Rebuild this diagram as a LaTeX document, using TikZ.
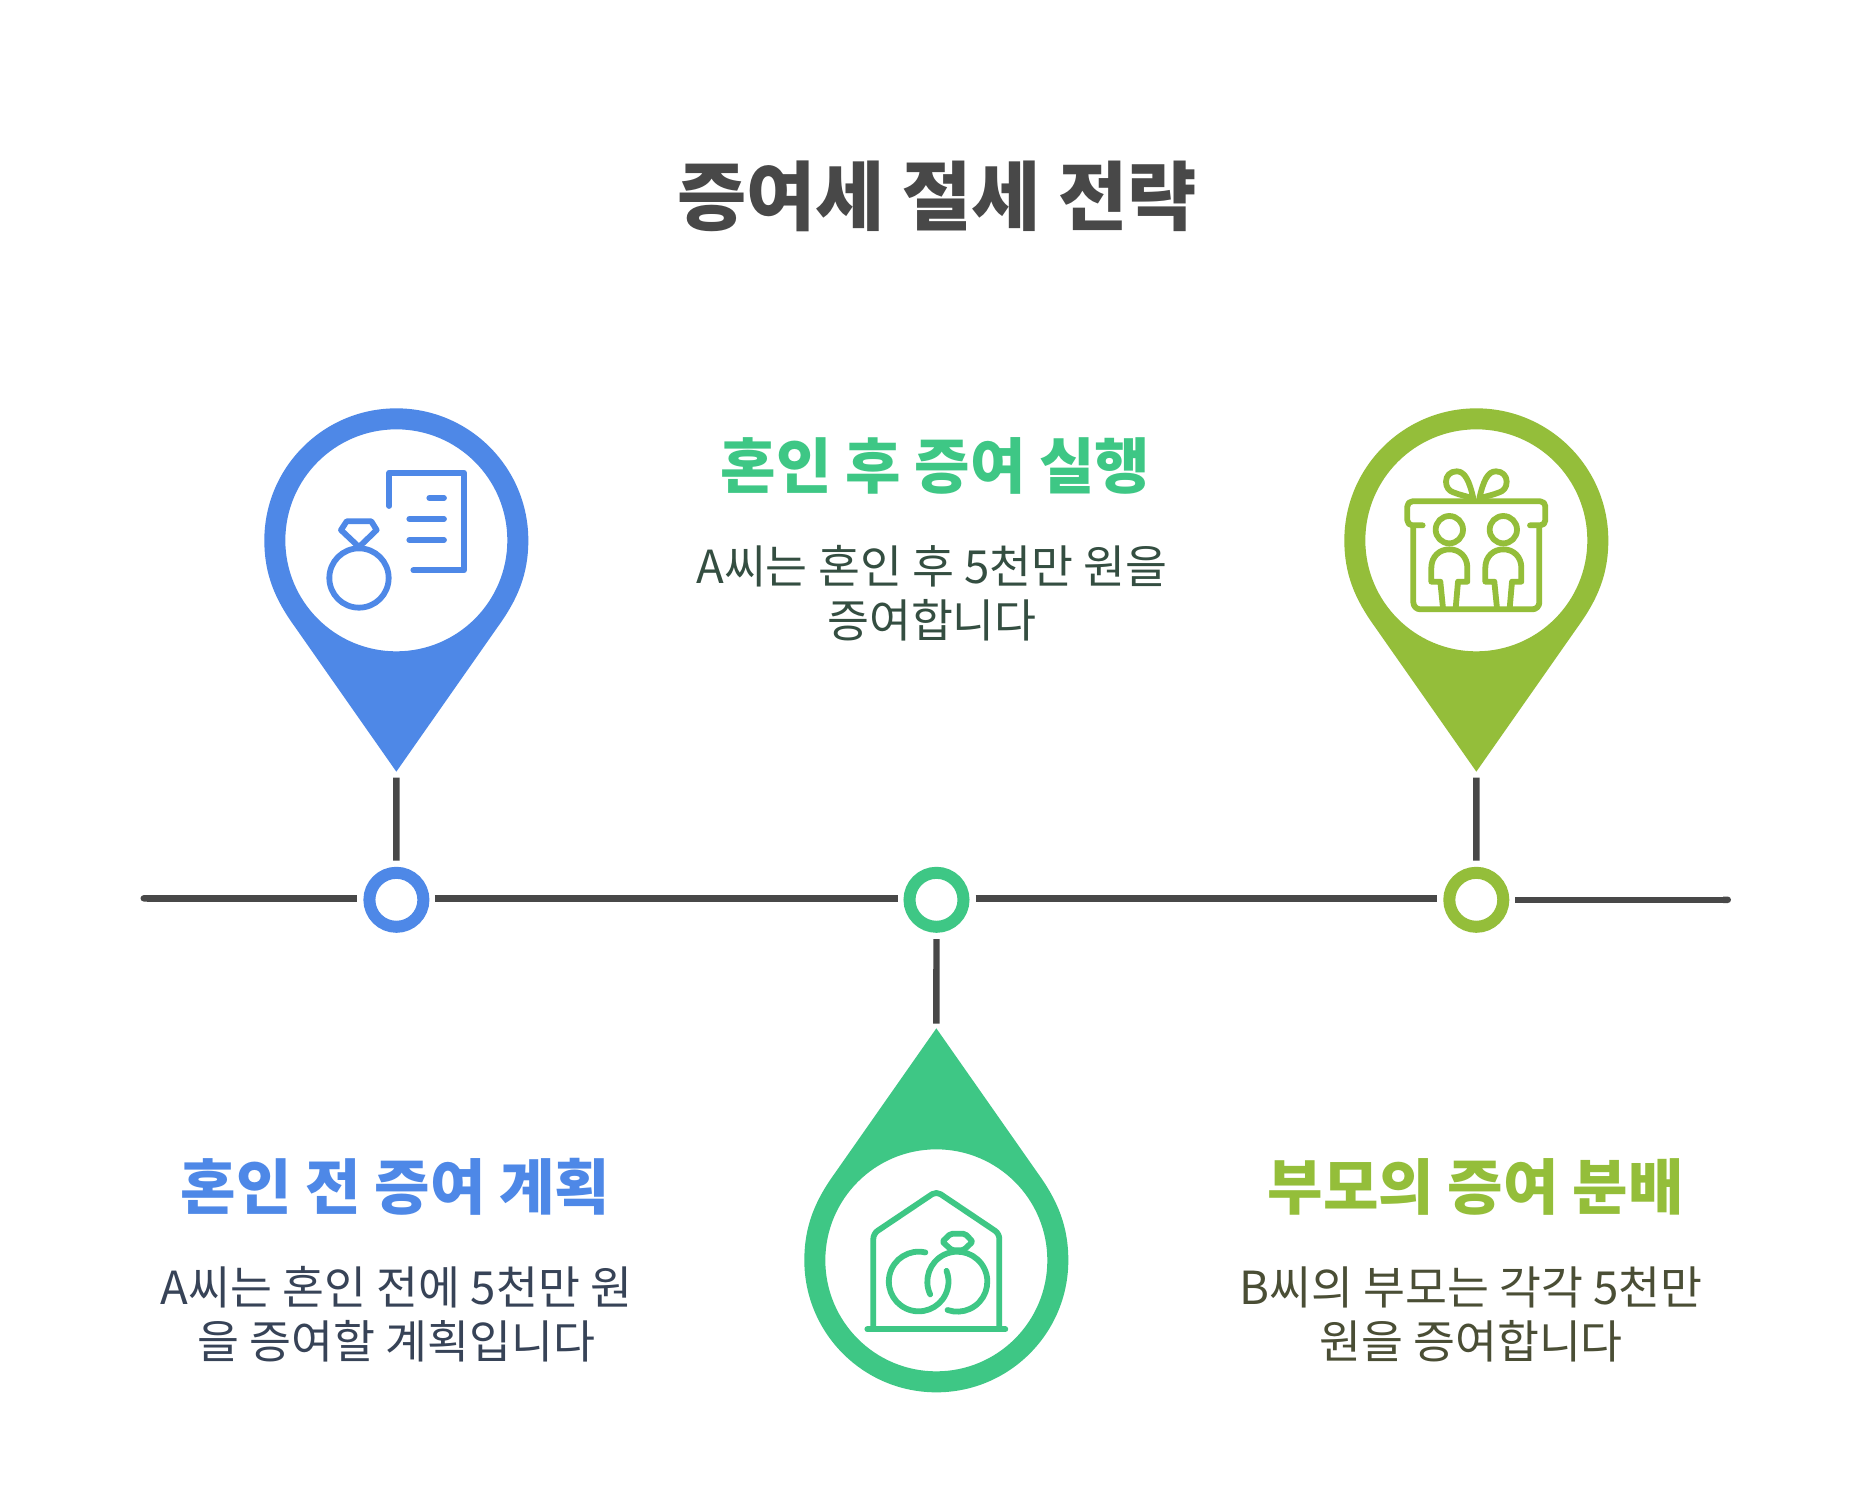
\documentclass[tikz,border=0pt]{standalone}
\usepackage{fontspec}
\setmainfont{Noto Sans CJK KR}
\usetikzlibrary{arrows.meta}
\definecolor{cblue}{HTML}{4E88E7}
\definecolor{cgreen}{HTML}{3EC785}
\definecolor{clime}{HTML}{94BE3A}
\definecolor{cdark}{HTML}{484848}
\definecolor{bodygreen}{HTML}{344E41}
\definecolor{bodyblue}{HTML}{374357}
\definecolor{bodylime}{HTML}{4A4E35}
\tikzset{
  seg/.style={draw=cdark,line width=6.4pt},
  ringnode/.style={circle,draw=#1,fill=white,line width=12pt,inner sep=0pt,outer sep=0pt,minimum size=54pt},
  ico/.style={draw=#1,line width=5.8pt,line cap=round,line join=round},
  zoomed/.style={shift={#1},x=0.33333pt,y=-0.33333pt},
  titlefont/.style={font=\fontsize{75.3}{80}\selectfont\bfseries,text=cdark,anchor=center,inner sep=0pt},
  headfont/.style={font=\fontsize{60.3}{66}\selectfont\bfseries,text=#1,anchor=center,inner sep=0pt},
  bodyfont/.style={font=\fontsize{45.6}{54}\selectfont,text=#1,align=center,anchor=center,inner sep=0pt},
}
\begin{document}
\begin{tikzpicture}[x=1pt,y=-1pt]
\useasboundingbox (0,0) rectangle (1872,1504);
\fill[white] (0,0) rectangle (1872,1504);

% title and texts
\node[titlefont] (title) at (937,196) {증여세 절세 전략};
\node[headfont=cgreen] (headB) at (935.5,466) {혼인 후 증여 실행};
\node[bodyfont=bodygreen] (bodyB) at (932,593.5) {A씨는 혼인 후 5천만 원을\\증여합니다};
\node[headfont=cblue] (headA) at (395.5,1187) {혼인 전 증여 계획};
\node[bodyfont=bodyblue] (bodyA) at (396.5,1314) {A씨는 혼인 전에 5천만 원\\을 증여할 계획입니다};
\node[headfont=clime] (headC) at (1475.5,1187) {부모의 증여 분배};
\node[bodyfont=bodylime] (bodyC) at (1471,1314) {B씨의 부모는 각각 5천만\\원을 증여합니다};

% timeline rings
\node[ringnode=cblue] (ringA) at (396.4,899.8) {};
\node[ringnode=cgreen] (ringB) at (936.5,899.8) {};
\node[ringnode=clime] (ringC) at (1476.3,899.8) {};

% timeline segments
\coordinate (s0) at (140.5,898.3);
\coordinate (s1) at (357.3,898.3);
\coordinate (s2) at (434.8,898.3);
\coordinate (s3) at (897.5,898.3);
\coordinate (s4) at (975.6,898.5);
\coordinate (s5) at (1437.3,898.5);
\coordinate (s6) at (1515.3,899.8);
\coordinate (s7) at (1731,899.8);
\draw[seg,{Round Cap[]}-] (s0) -- (s1);
\draw[seg] (s2) -- (s3);
\draw[seg] (s4) -- (s5);
\draw[seg,-{Round Cap[]}] (s6) -- (s7);

% blue pin
\begin{scope}[zoomed={(240,391)}]
\fill[cblue,even odd rule] (469,1142) -- (165,708) .. controls (105,625) and (73,550) .. (73,448)
  arc[start angle=180,end angle=360,radius=396]
  .. controls (865,550) and (833,625) .. (773,708) -- cycle
  (469,448) circle[radius=333];
\draw[ico=cblue] (448,345) -- (448,245) -- (672,245) -- (672,538) -- (520,538);
\draw[ico=cblue] (568,321) -- (612,321) (508,384) -- (612,384) (508,447) -- (612,447);
\draw[ico=cblue] (357,561) circle[radius=89];
\draw[ico=cblue] (320,391) -- (394,391) -- (410,417) -- (357,468) -- (303,417) -- cycle;
\coordinate (stemAtop) at (469,1160);
\end{scope}

% lime pin
\begin{scope}[zoomed={(1320,391)}]
\fill[clime,even odd rule] (469,1142) -- (165,708) .. controls (105,625) and (73,550) .. (73,448)
  arc[start angle=180,end angle=360,radius=396]
  .. controls (865,550) and (833,625) .. (773,708) -- cycle
  (469,448) circle[radius=333];
\draw[ico=clime,rounded corners=5pt] (308,403) -- (262,403) -- (262,331) -- (676,331) -- (676,403) -- (630,403);
\draw[ico=clime,rounded corners=7pt] (280,410) -- (280,655) -- (658,655) -- (658,410);
\draw[ico=clime] (460,322) .. controls (448,270) and (435,241) .. (410,241) .. controls (390,241) and (378,255) .. (378,272) .. controls (378,290) and (388,300) .. (400,304) .. controls (420,312) and (440,316) .. (460,322);
\draw[ico=clime] (478,322) .. controls (490,270) and (503,241) .. (528,241) .. controls (548,241) and (560,255) .. (560,272) .. controls (560,290) and (550,300) .. (538,304) .. controls (518,312) and (498,316) .. (478,322);
\foreach \dx in {0,162}{
  \draw[ico=clime] (388+\dx,416) circle[radius=41];
  \draw[ico=clime] (369+\dx,652) -- (361+\dx,572) -- (334+\dx,572) -- (334+\dx,530) .. controls (334+\dx,497) and (358+\dx,475) .. (388+\dx,475) .. controls (418+\dx,475) and (442+\dx,497) .. (442+\dx,530) -- (442+\dx,572) -- (414+\dx,572) -- (407+\dx,652);
}
\coordinate (stemCtop) at (469,1160);
\end{scope}

% green pin
\begin{scope}[zoomed={(780,1011)}]
\fill[cgreen,even odd rule] (469,52) -- (165,486) .. controls (105,569) and (73,645) .. (73,748)
  arc[start angle=180,end angle=0,radius=396]
  .. controls (865,645) and (833,569) .. (773,486) -- cycle
  (469,748) circle[radius=333];
\draw[ico=cgreen,rounded corners=5pt] (280,945) -- (280,668) -- (469,541) -- (658,668) -- (658,945);
\draw[ico=cgreen] (262,955) -- (676,955);
\draw[ico=cgreen] (436.1,724.3) arc[start angle=-77,end angle=-381,radius=89.5];
\draw[ico=cgreen] (450.4,850) arc[start angle=155,end angle=469,radius=90];
\draw[ico=cgreen,rounded corners=2pt] (512,668) -- (555,668) -- (578,692) -- (550,718) -- (516,718) -- (487,692) -- cycle;
\coordinate (stemBbot) at (469,38);
\end{scope}

% stems
\coordinate (ringAstem) at (396.4,860.5);
\coordinate (ringCstem) at (1476.3,860.5);
\coordinate (ringBstem) at (936.5,939);
\draw[seg] (stemAtop) -- (ringAstem);
\draw[seg] (stemCtop) -- (ringCstem);
\draw[seg] (ringBstem) -- (stemBbot);
\end{tikzpicture}
\end{document}
